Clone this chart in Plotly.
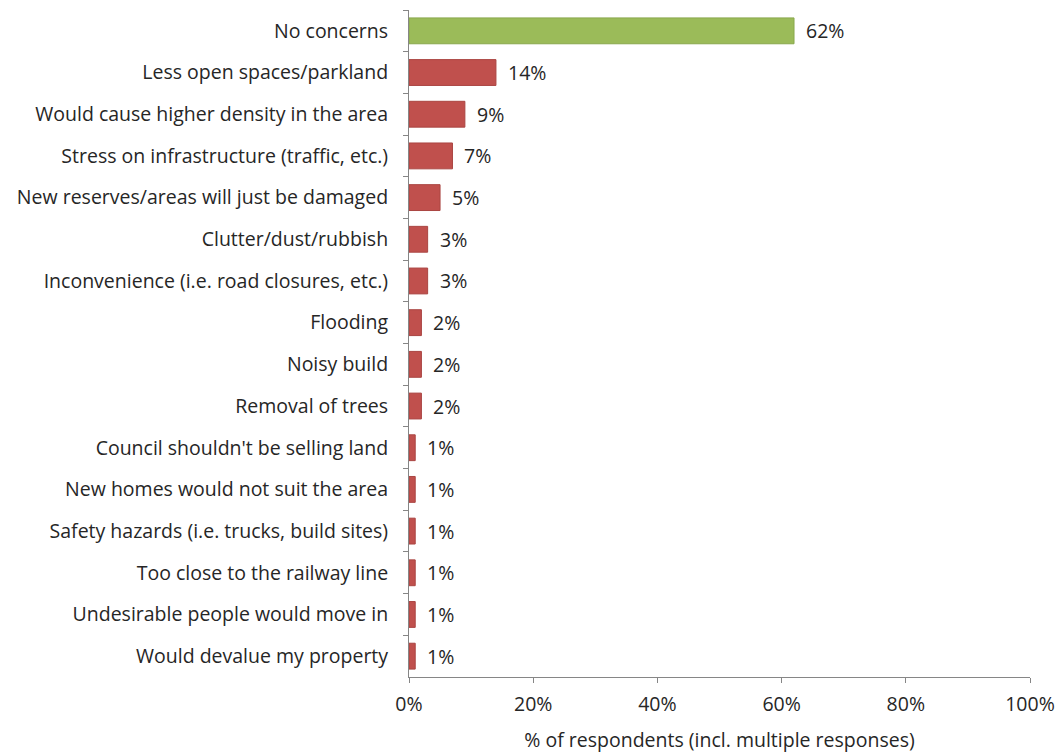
import plotly.graph_objects as go

categories = [
    "No concerns",
    "Less open spaces/parkland",
    "Would cause higher density in the area",
    "Stress on infrastructure (traffic, etc.)",
    "New reserves/areas will just be damaged",
    "Clutter/dust/rubbish",
    "Inconvenience (i.e. road closures, etc.)",
    "Flooding",
    "Noisy build",
    "Removal of trees",
    "Council shouldn't be selling land",
    "New homes would not suit the area",
    "Safety hazards (i.e. trucks, build sites)",
    "Too close to the railway line",
    "Undesirable people would move in",
    "Would devalue my property",
]
values = [62, 14, 9, 7, 5, 3, 3, 2, 2, 2, 1, 1, 1, 1, 1, 1]

GREEN = "#9BBB59"
RED = "#C0504D"
fill_colors = [GREEN if c == "No concerns" else RED for c in categories]
line_colors = ["#89A84C" if c == "No concerns" else "#AA4542" for c in categories]

FONT = "'Open Sans', sans-serif"
TEXT = "#262626"
AXIS = "#868686"
SIZE = 19.5

fig = go.Figure(
    go.Bar(
        x=values,
        y=categories,
        orientation="h",
        marker=dict(color=fill_colors, line=dict(color=line_colors, width=1)),
        hoverinfo="skip",
    )
)

for cat, val in zip(categories, values):
    fig.add_annotation(
        x=val, y=cat, text=f"{val}%", showarrow=False,
        xanchor="left", xshift=10,
        font=dict(family=FONT, size=SIZE, color=TEXT),
    )

fig.update_layout(
    width=1055, height=753,
    margin=dict(l=409, r=25, t=10, b=76),
    paper_bgcolor="white", plot_bgcolor="white",
    bargap=0.38,
    showlegend=False,
    font=dict(family=FONT, size=SIZE, color=TEXT),
)
fig.update_xaxes(
    range=[0, 100], dtick=20, ticksuffix="%",
    showgrid=False, zeroline=False, automargin=False,
    showline=True, linecolor=AXIS, linewidth=1,
    ticks="outside", ticklen=5, tickcolor=AXIS,
    ticklabelstandoff=5,
    tickfont=dict(family=FONT, size=SIZE, color=TEXT),
    title=dict(text="% of respondents (incl. multiple responses)",
               font=dict(family=FONT, size=SIZE, color=TEXT), standoff=23),
)
fig.update_yaxes(
    autorange="reversed", type="category",
    showgrid=False, zeroline=False, automargin=False,
    showline=True, linecolor=AXIS, linewidth=1,
    ticks="outside", ticklen=5, tickcolor=AXIS, tickson="boundaries",
    ticklabelstandoff=16,
    tickfont=dict(family=FONT, size=SIZE, color=TEXT),
)

fig.write_html("out.html")
